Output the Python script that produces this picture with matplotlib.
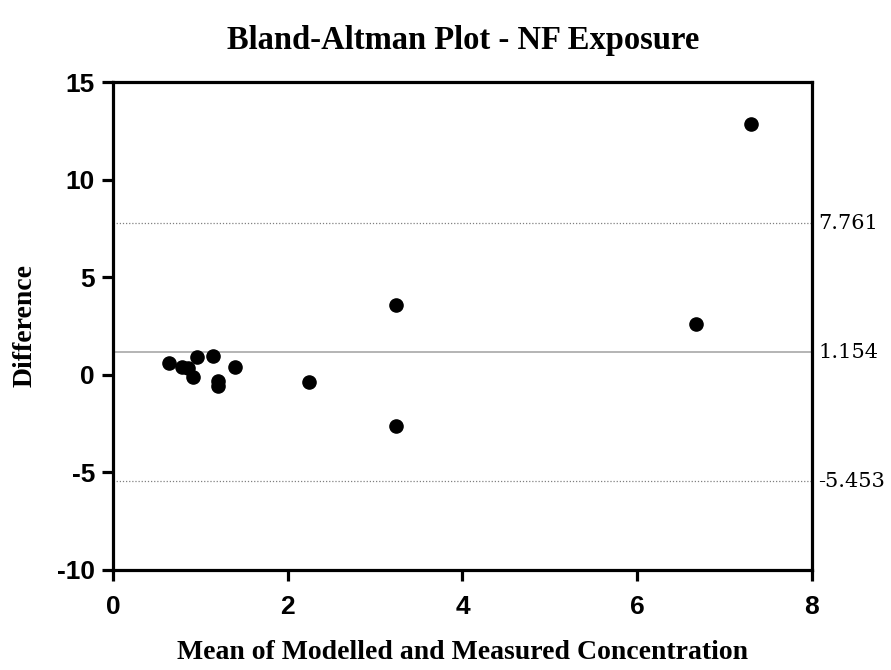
import matplotlib
matplotlib.use("Agg")
import matplotlib.pyplot as plt
import numpy as np

# Bland-Altman data
mean_vals = [0.644, 0.786, 0.855, 0.912, 0.965, 1.14, 1.198, 1.198, 1.396,
             2.239, 3.238, 3.238, 6.67, 7.30]
diff_vals = [0.62, 0.41, 0.33, -0.10, 0.93, 0.98, -0.30, -0.56, 0.40,
             -0.35, 3.58, -2.63, 2.62, 12.83]
bias = 1.154
upper_loa = 7.761
lower_loa = -5.453
x_ticks = [0, 2, 4, 6, 8]
y_ticks = [-10, -5, 0, 5, 10, 15]

plt.rcParams["axes.unicode_minus"] = False

fig = plt.figure(figsize=(8.91, 6.7), dpi=100)
ax = fig.add_axes([0.1268, 0.1493, 0.9113 - 0.1268, 0.8776 - 0.1493])

ax.scatter(mean_vals, diff_vals, s=90, color="black", zorder=3)

ax.axhline(bias, color="#a0a0a0", lw=1.1, zorder=1)
ax.axhline(upper_loa, color="#808080", lw=0.9, ls=(0, (1, 1.5)), zorder=1)
ax.axhline(lower_loa, color="#808080", lw=0.9, ls=(0, (1, 1.5)), zorder=1)

# labels for the lines, just outside the right spine
for v in [upper_loa, bias, lower_loa]:
    ax.text(1.009, v, f"{v:.3f}", transform=ax.get_yaxis_transform(),
            va="center", ha="left", fontsize=15, family="DejaVu Serif")

ax.set_xlim(0, 8)
ax.set_ylim(-10, 15)
ax.set_xticks(x_ticks)
ax.set_yticks(y_ticks)

for s in ax.spines.values():
    s.set_linewidth(2.3)
ax.tick_params(axis="both", direction="out", length=8, width=2.3,
               labelsize=19, pad=5)
ax.tick_params(axis="x", pad=10)
for lbl in ax.get_xticklabels() + ax.get_yticklabels():
    lbl.set_fontweight("bold")
    lbl.set_family("Liberation Sans")

ax.set_xlabel("Mean of Modelled and Measured Concentration",
              family="Liberation Serif", fontweight="bold", fontsize=20,
              labelpad=15)
ax.set_ylabel("Difference", family="Liberation Serif", fontweight="bold",
              fontsize=20, labelpad=14)
fig.text(0.52, 0.940, "Bland-Altman Plot - NF Exposure",
         family="Liberation Serif", fontweight="bold", fontsize=23.5,
         ha="center", va="center")

fig.savefig("out.png", dpi=100)
